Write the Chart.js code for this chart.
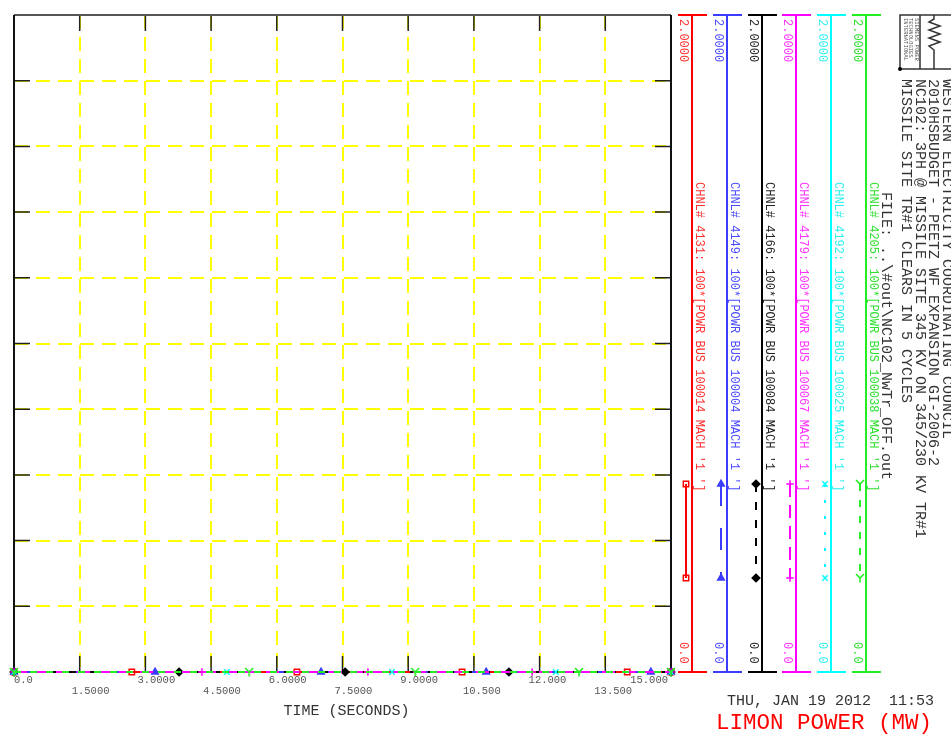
<!DOCTYPE html>
<html><head><meta charset="utf-8">
<script src="https://cdn.jsdelivr.net/npm/chart.js@4"></script>
<style>html,body{margin:0;padding:0;background:#fff;overflow:hidden}canvas{display:block}</style>
</head><body>
<canvas id="c" width="951" height="734"></canvas>
<script>
// ---------- data ----------
const TIME_TICKS = [0, 1.5, 3, 4.5, 6, 7.5, 9, 10.5, 12, 13.5, 15];
const TIME_TICK_LABELS = ['0.0','1.5000','3.0000','4.5000','6.0000','7.5000','9.0000','10.500','12.000','13.500','15.000'];
const VALUE_TICKS = [0, 0.2, 0.4, 0.6, 0.8, 1.0, 1.2, 1.4, 1.6, 1.8, 2.0];
const X_TITLE = 'TIME (SECONDS)';
const CHANNEL_LABELS = [
  "CHNL# 4131: 100*[POWR BUS 100014 MACH '1 ']",
  "CHNL# 4149: 100*[POWR BUS 100004 MACH '1 ']",
  "CHNL# 4166: 100*[POWR BUS 100084 MACH '1 ']",
  "CHNL# 4179: 100*[POWR BUS 100067 MACH '1 ']",
  "CHNL# 4192: 100*[POWR BUS 100025 MACH '1 ']",
  "CHNL# 4205: 100*[POWR BUS 100038 MACH '1 ']"
];
const CHANNEL_MAX_LABELS = ['2.0000','2.0000','2.0000','2.0000','2.0000','2.0000'];
const CHANNEL_MIN_LABELS = ['0.0','0.0','0.0','0.0','0.0','0.0'];
const HEADER_LINES = [
  'WESTERN ELECTRICITY COORDINATING COUNCIL',
  '2010HSBUDGET - PEETZ WF EXPANSION GI-2006-2',
  'NC102: 3PH @ MISSILE SITE 345 KV ON 345/230 KV TR#1',
  'MISSILE SITE TR#1 CLEARS IN 5 CYCLES'
];
const FILE_LINE = 'FILE: ..\\#out\\NC102_NwTr_OFF.out';
const DATE_TEXT = 'THU, JAN 19 2012  11:53';
const PLOT_TITLE = 'LIMON POWER (MW)';
const LOGO_LINES = ['SIEMENS POWER','TECHNOLOGIES','INTERNATIONAL'];

// series (time in s, value) - all channels stay at 0.0
const T4131 = [0, 2.69, 6.46, 10.23, 14.00, 15.0];
const V4131 = [0, 0, 0, 0, 0, 0];
const T4149 = [0, 3.22, 7.01, 10.78, 14.54, 15.0];
const V4149 = [0, 0, 0, 0, 0, 0];
const T4166 = [0, 3.77, 7.56, 11.30, 15.0];
const V4166 = [0, 0, 0, 0, 0];
const T4179 = [0, 4.29, 8.08, 11.83, 15.0];
const V4179 = [0, 0, 0, 0, 0];
const T4192 = [0, 4.86, 8.63, 12.37, 15.0];
const V4192 = [0, 0, 0, 0, 0];
const T4205 = [0, 5.37, 9.16, 12.90, 15.0];
const V4205 = [0, 0, 0, 0, 0];

// ---------- styles ----------
const MONO = '"Liberation Mono", "DejaVu Sans Mono", monospace';
const COLORS = ['#ff0000', '#3c3cff', '#000000', '#ff00ff', '#00ffff', '#22ee22'];
const TEXT_COLORS = ['#ff3030', '#4a4aff', '#222222', '#ff30ff', '#30f0f0', '#30e030'];
const DASHES = [[], [22, 22], [8, 10], [13, 8], [3, 13], [7, 9]];

function makeY(color) {
  const c = document.createElement('canvas');
  c.width = 10; c.height = 10;
  const g = c.getContext('2d');
  g.strokeStyle = color; g.lineWidth = 1.6;
  g.beginPath();
  g.moveTo(1, 1); g.lineTo(5, 5); g.lineTo(9, 1);
  g.moveTo(5, 5); g.lineTo(5, 9.5);
  g.stroke();
  return c;
}
const STYLES = ['rect', 'triangle', 'rectRot', 'cross', 'crossRot', makeY(COLORS[5])];
const FILLS = ['rgba(255,255,255,0)', COLORS[1], COLORS[2], COLORS[3], COLORS[4], COLORS[5]];

const SERIES_T = [T4131, T4149, T4166, T4179, T4192, T4205];
const SERIES_V = [V4131, V4149, V4166, V4179, V4192, V4205];

const datasets = SERIES_T.map((ts, i) => ({
  label: CHANNEL_LABELS[i],
  data: ts.map((t, k) => ({ x: t, y: SERIES_V[i][k] })),
  borderColor: COLORS[i],
  backgroundColor: FILLS[i],
  borderWidth: 2,
  borderDash: DASHES[i],
  pointStyle: STYLES[i],
  pointRadius: 3.8,
  pointBorderWidth: 1.5,
  pointBorderColor: COLORS[i],
  pointBackgroundColor: FILLS[i],
  tension: 0,
  clip: false,
  order: 6 - i
}));

function rotText(ctx, txt, cx, y0, font, color) {
  ctx.save();
  ctx.translate(cx, y0);
  ctx.rotate(Math.PI / 2);
  ctx.font = font;
  ctx.fillStyle = color;
  ctx.textAlign = 'left';
  ctx.textBaseline = 'middle';
  ctx.fillText(txt, 0, 0);
  ctx.restore();
}

function marker(ctx, style, color, fill, x, y) {
  ctx.save();
  ctx.strokeStyle = color;
  ctx.fillStyle = fill;
  ctx.lineWidth = 1.5;
  ctx.setLineDash([]);
  Chart.helpers.drawPoint(ctx, { pointStyle: style, radius: 3.8, rotation: 0, borderWidth: 1.5 }, x, y);
  ctx.restore();
}

const framePlugin = {
  id: 'frame',
  beforeDatasetsDraw(chart) {
    const ctx = chart.ctx, a = chart.chartArea;
    const xs = chart.scales.x, ys = chart.scales.y;
    ctx.save();
    ctx.strokeStyle = '#222';
    ctx.lineWidth = 1.5;
    ctx.beginPath();
    TIME_TICKS.forEach(t => {
      const px = xs.getPixelForValue(t);
      ctx.moveTo(px, a.top); ctx.lineTo(px, a.top + 16);
      ctx.moveTo(px, a.bottom); ctx.lineTo(px, a.bottom - 16);
    });
    VALUE_TICKS.forEach(v => {
      const py = ys.getPixelForValue(v);
      ctx.moveTo(a.left, py); ctx.lineTo(a.left + 16, py);
      ctx.moveTo(a.right, py); ctx.lineTo(a.right - 16, py);
    });
    ctx.stroke();
    ctx.lineWidth = 2;
    ctx.strokeStyle = '#555';
    ctx.beginPath(); ctx.moveTo(a.left, a.top); ctx.lineTo(a.right, a.top); ctx.stroke();
    ctx.strokeStyle = '#111';
    ctx.beginPath();
    ctx.moveTo(a.left, a.top); ctx.lineTo(a.left, a.bottom);
    ctx.moveTo(a.right, a.top); ctx.lineTo(a.right, a.bottom);
    ctx.moveTo(a.left, a.bottom); ctx.lineTo(a.right, a.bottom);
    ctx.stroke();
    ctx.restore();
  },
  afterDraw(chart) {
    const ctx = chart.ctx, a = chart.chartArea;
    const xs = chart.scales.x;
    ctx.save();
    ctx.font = '10.5px ' + MONO;
    ctx.fillStyle = '#555';
    ctx.textBaseline = 'middle';
    TIME_TICKS.forEach((t, i) => {
      const px = xs.getPixelForValue(t);
      const y = a.bottom + (i % 2 === 0 ? 8.5 : 19.5);
      if (i === 0) { ctx.textAlign = 'left'; ctx.fillText(TIME_TICK_LABELS[i], px, y); }
      else if (i === TIME_TICKS.length - 1) { ctx.textAlign = 'right'; ctx.fillText(TIME_TICK_LABELS[i], px - 3, y); }
      else { ctx.textAlign = 'left'; ctx.fillText(TIME_TICK_LABELS[i], px - 8 - (i > 6 ? 3 : 0), y); }
    });
    ctx.font = '15px ' + MONO;
    ctx.fillStyle = '#333';
    ctx.textAlign = 'center';
    ctx.fillText(X_TITLE, (a.left + a.right) / 2 + 4, a.bottom + 39);
    ctx.textAlign = 'left';
    ctx.fillText(DATE_TEXT, 727, 701);
    ctx.font = '22.5px ' + MONO;
    ctx.fillStyle = '#ff0000';
    ctx.fillText(PLOT_TITLE, 716, 723);

    for (let i = 0; i < CHANNEL_LABELS.length; i++) {
      const x = Math.round(a.right + 21 + i * 34.8);
      const col = COLORS[i];
      ctx.strokeStyle = col;
      ctx.lineWidth = 2;
      ctx.setLineDash([]);
      ctx.beginPath();
      ctx.moveTo(x, a.top); ctx.lineTo(x, a.bottom);
      ctx.moveTo(x - 14, a.top); ctx.lineTo(x + 15, a.top);
      ctx.moveTo(x - 14, a.bottom); ctx.lineTo(x + 15, a.bottom);
      ctx.stroke();
      rotText(ctx, CHANNEL_MAX_LABELS[i], x - 9, a.top + 4, '12px ' + MONO, TEXT_COLORS[i]);
      rotText(ctx, CHANNEL_MIN_LABELS[i], x - 9, a.bottom - 30, '12px ' + MONO, TEXT_COLORS[i]);
      rotText(ctx, CHANNEL_LABELS[i], x + 7.5, a.top + 167, '12px ' + MONO, TEXT_COLORS[i]);
      const sx = x - 6, y1 = a.top + 469, y2 = a.top + 563;
      ctx.strokeStyle = col;
      ctx.lineWidth = 2;
      ctx.setLineDash(DASHES[i]);
      ctx.beginPath(); ctx.moveTo(sx, y1); ctx.lineTo(sx, y2); ctx.stroke();
      marker(ctx, STYLES[i], col, FILLS[i], sx, y1);
      marker(ctx, STYLES[i], col, FILLS[i], sx, y2);
    }

    const hx = [947, 933, 920, 906];
    HEADER_LINES.forEach((l, i) => rotText(ctx, l, hx[i], 79, '15px ' + MONO, '#333'));
    rotText(ctx, FILE_LINE, 886, 192, '15px ' + MONO, '#333');

    ctx.setLineDash([]);
    ctx.strokeStyle = '#333';
    ctx.lineWidth = 1.5;
    ctx.strokeRect(900, 15, 60, 54);
    ctx.beginPath();
    ctx.moveTo(920, 15); ctx.lineTo(920, 69);
    ctx.moveTo(934, 15); ctx.lineTo(934, 19);
    ctx.lineTo(929, 22); ctx.lineTo(940, 26); ctx.lineTo(929, 30); ctx.lineTo(940, 34);
    ctx.lineTo(929, 38); ctx.lineTo(940, 42); ctx.lineTo(929, 46); ctx.lineTo(934, 50);
    ctx.lineTo(934, 69);
    ctx.stroke();
    ctx.fillStyle = '#000';
    ctx.beginPath(); ctx.arc(900, 69, 2, 0, Math.PI * 2); ctx.fill();
    LOGO_LINES.forEach((l, i) => rotText(ctx, l, 916 - i * 5.5, 18, '5.5px ' + MONO, '#555'));
    ctx.restore();
  }
};

new Chart(document.getElementById('c'), {
  type: 'line',
  data: { datasets },
  options: {
    responsive: false,
    animation: false,
    devicePixelRatio: 1,
    layout: { padding: { left: 14, top: 15, right: 280, bottom: 62 } },
    plugins: { legend: { display: false }, tooltip: { enabled: false }, title: { display: false } },
    scales: {
      x: {
        type: 'linear', min: 0, max: 15,
        afterBuildTicks(s) { s.ticks = TIME_TICKS.map(v => ({ value: v })); },
        afterFit(s) { s.height = 0; },
        ticks: { display: false },
        grid: { color: '#ffff00', lineWidth: 2, drawTicks: false },
        border: { display: false, dash: [14, 8] }
      },
      y: {
        type: 'linear', min: 0, max: 2,
        afterBuildTicks(s) { s.ticks = VALUE_TICKS.map(v => ({ value: v })); },
        afterFit(s) { s.width = 0; },
        ticks: { display: false },
        grid: { color: '#ffff00', lineWidth: 2, drawTicks: false },
        border: { display: false, dash: [14, 8] }
      }
    }
  },
  plugins: [framePlugin]
});
</script>
</body></html>
